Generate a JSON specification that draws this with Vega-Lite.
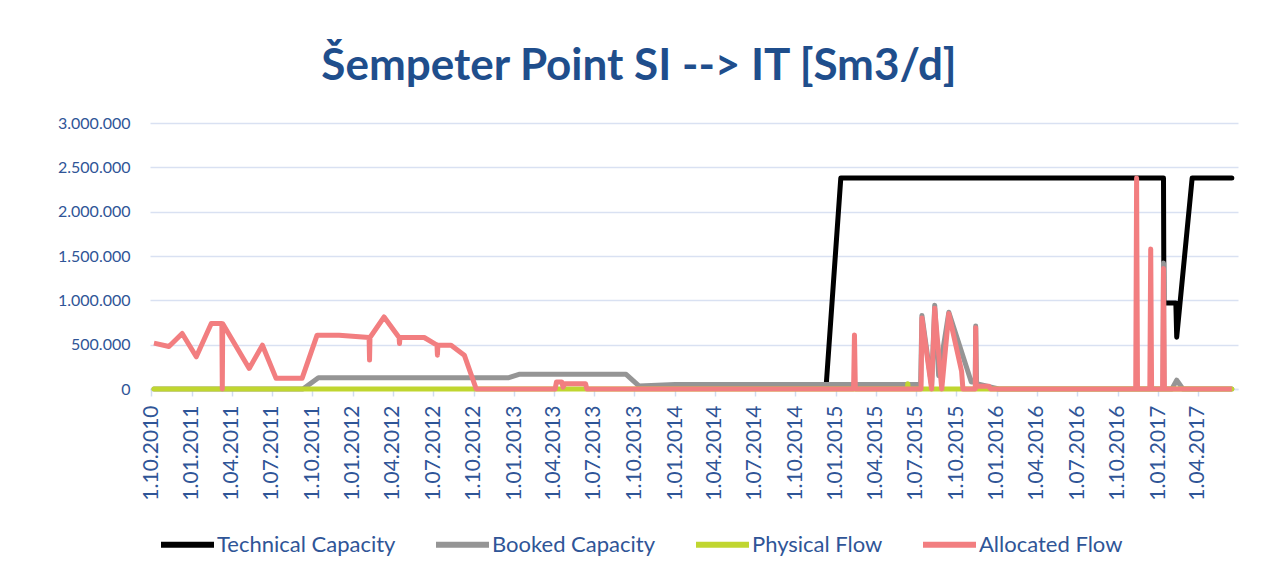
{
  "$schema": "https://vega.github.io/schema/vega-lite/v6.json",
  "width": 1088,
  "height": 266,
  "autosize": {"type": "none"},
  "padding": {"left": 150, "top": 123, "right": 24, "bottom": 188},
  "background": "white",
  "title": {
    "text": "Šempeter Point SI --> IT [Sm3/d]",
    "font": "Lato",
    "fontSize": 44,
    "fontWeight": "bold",
    "color": "#1F4E8C",
    "anchor": "middle",
    "dx": -55,
    "offset": 26
  },
  "data": {
    "values": [
      {"s": "Technical Capacity", "d": "2014-12-10", "v": 50000},
      {"s": "Technical Capacity", "d": "2015-01-12", "v": 2380000},
      {"s": "Technical Capacity", "d": "2017-01-13", "v": 2380000},
      {"s": "Technical Capacity", "d": "2017-01-14", "v": 970000},
      {"s": "Technical Capacity", "d": "2017-02-10", "v": 970000},
      {"s": "Technical Capacity", "d": "2017-02-12", "v": 585000},
      {"s": "Technical Capacity", "d": "2017-03-19", "v": 2380000},
      {"s": "Technical Capacity", "d": "2017-06-17", "v": 2380000},

      {"s": "Booked Capacity", "d": "2010-10-07", "v": 0},
      {"s": "Booked Capacity", "d": "2011-09-10", "v": 0},
      {"s": "Booked Capacity", "d": "2011-10-15", "v": 128000},
      {"s": "Booked Capacity", "d": "2012-12-20", "v": 128000},
      {"s": "Booked Capacity", "d": "2013-01-12", "v": 165000},
      {"s": "Booked Capacity", "d": "2013-09-12", "v": 165000},
      {"s": "Booked Capacity", "d": "2013-10-11", "v": 35000},
      {"s": "Booked Capacity", "d": "2014-01-01", "v": 50000},
      {"s": "Booked Capacity", "d": "2015-07-12", "v": 50000},
      {"s": "Booked Capacity", "d": "2015-07-15", "v": 830000},
      {"s": "Booked Capacity", "d": "2015-08-06", "v": 40000},
      {"s": "Booked Capacity", "d": "2015-08-13", "v": 945000},
      {"s": "Booked Capacity", "d": "2015-08-22", "v": 150000},
      {"s": "Booked Capacity", "d": "2015-09-05", "v": 580000},
      {"s": "Booked Capacity", "d": "2015-09-14", "v": 865000},
      {"s": "Booked Capacity", "d": "2015-11-04", "v": 80000},
      {"s": "Booked Capacity", "d": "2015-11-13", "v": 80000},
      {"s": "Booked Capacity", "d": "2015-11-14", "v": 710000},
      {"s": "Booked Capacity", "d": "2015-11-16", "v": 60000},
      {"s": "Booked Capacity", "d": "2016-01-05", "v": 0},
      {"s": "Booked Capacity", "d": "2017-01-12", "v": 0},
      {"s": "Booked Capacity", "d": "2017-01-13", "v": 1420000},
      {"s": "Booked Capacity", "d": "2017-01-14", "v": 0},
      {"s": "Booked Capacity", "d": "2017-02-01", "v": 0},
      {"s": "Booked Capacity", "d": "2017-02-12", "v": 100000},
      {"s": "Booked Capacity", "d": "2017-02-26", "v": 0},
      {"s": "Booked Capacity", "d": "2017-06-17", "v": 0},

      {"s": "Physical Flow", "d": "2010-10-07", "v": 0},
      {"s": "Physical Flow", "d": "2015-06-12", "v": 0},
      {"s": "Physical Flow", "d": "2015-06-13", "v": 60000},
      {"s": "Physical Flow", "d": "2015-06-14", "v": 0},
      {"s": "Physical Flow", "d": "2017-06-17", "v": 0},

      {"s": "Allocated Flow", "d": "2010-10-07", "v": 517000},
      {"s": "Allocated Flow", "d": "2010-11-10", "v": 480000},
      {"s": "Allocated Flow", "d": "2010-12-10", "v": 626000},
      {"s": "Allocated Flow", "d": "2011-01-11", "v": 363000},
      {"s": "Allocated Flow", "d": "2011-02-14", "v": 738000},
      {"s": "Allocated Flow", "d": "2011-03-10", "v": 738000},
      {"s": "Allocated Flow", "d": "2011-03-11", "v": 0},
      {"s": "Allocated Flow", "d": "2011-03-12", "v": 735000},
      {"s": "Allocated Flow", "d": "2011-05-11", "v": 232000},
      {"s": "Allocated Flow", "d": "2011-06-10", "v": 494000},
      {"s": "Allocated Flow", "d": "2011-07-11", "v": 120000},
      {"s": "Allocated Flow", "d": "2011-09-08", "v": 120000},
      {"s": "Allocated Flow", "d": "2011-10-12", "v": 607000},
      {"s": "Allocated Flow", "d": "2011-12-01", "v": 607000},
      {"s": "Allocated Flow", "d": "2012-02-07", "v": 581000},
      {"s": "Allocated Flow", "d": "2012-02-08", "v": 326000},
      {"s": "Allocated Flow", "d": "2012-02-09", "v": 581000},
      {"s": "Allocated Flow", "d": "2012-03-12", "v": 812000},
      {"s": "Allocated Flow", "d": "2012-04-15", "v": 581000},
      {"s": "Allocated Flow", "d": "2012-04-16", "v": 513000},
      {"s": "Allocated Flow", "d": "2012-04-17", "v": 581000},
      {"s": "Allocated Flow", "d": "2012-06-11", "v": 581000},
      {"s": "Allocated Flow", "d": "2012-07-10", "v": 494000},
      {"s": "Allocated Flow", "d": "2012-07-11", "v": 382000},
      {"s": "Allocated Flow", "d": "2012-07-12", "v": 494000},
      {"s": "Allocated Flow", "d": "2012-08-11", "v": 494000},
      {"s": "Allocated Flow", "d": "2012-09-10", "v": 382000},
      {"s": "Allocated Flow", "d": "2012-10-07", "v": 0},
      {"s": "Allocated Flow", "d": "2013-04-04", "v": 0},
      {"s": "Allocated Flow", "d": "2013-04-07", "v": 80000},
      {"s": "Allocated Flow", "d": "2013-04-19", "v": 80000},
      {"s": "Allocated Flow", "d": "2013-04-22", "v": 20000},
      {"s": "Allocated Flow", "d": "2013-04-26", "v": 60000},
      {"s": "Allocated Flow", "d": "2013-06-12", "v": 60000},
      {"s": "Allocated Flow", "d": "2013-06-15", "v": 0},
      {"s": "Allocated Flow", "d": "2015-02-10", "v": 0},
      {"s": "Allocated Flow", "d": "2015-02-12", "v": 610000},
      {"s": "Allocated Flow", "d": "2015-02-14", "v": 0},
      {"s": "Allocated Flow", "d": "2015-07-13", "v": 0},
      {"s": "Allocated Flow", "d": "2015-07-15", "v": 800000},
      {"s": "Allocated Flow", "d": "2015-08-06", "v": 0},
      {"s": "Allocated Flow", "d": "2015-08-13", "v": 910000},
      {"s": "Allocated Flow", "d": "2015-08-29", "v": 0},
      {"s": "Allocated Flow", "d": "2015-09-14", "v": 850000},
      {"s": "Allocated Flow", "d": "2015-10-13", "v": 200000},
      {"s": "Allocated Flow", "d": "2015-10-16", "v": 0},
      {"s": "Allocated Flow", "d": "2015-11-13", "v": 0},
      {"s": "Allocated Flow", "d": "2015-11-14", "v": 690000},
      {"s": "Allocated Flow", "d": "2015-11-15", "v": 30000},
      {"s": "Allocated Flow", "d": "2015-12-14", "v": 30000},
      {"s": "Allocated Flow", "d": "2015-12-18", "v": 0},
      {"s": "Allocated Flow", "d": "2016-11-11", "v": 0},
      {"s": "Allocated Flow", "d": "2016-11-13", "v": 2380000},
      {"s": "Allocated Flow", "d": "2016-11-15", "v": 0},
      {"s": "Allocated Flow", "d": "2016-12-13", "v": 0},
      {"s": "Allocated Flow", "d": "2016-12-15", "v": 1580000},
      {"s": "Allocated Flow", "d": "2016-12-17", "v": 0},
      {"s": "Allocated Flow", "d": "2017-01-11", "v": 0},
      {"s": "Allocated Flow", "d": "2017-01-13", "v": 1360000},
      {"s": "Allocated Flow", "d": "2017-01-15", "v": 0},
      {"s": "Allocated Flow", "d": "2017-06-17", "v": 0}
    ]
  },
  "encoding": {
    "x": {
      "field": "d",
      "type": "temporal",
      "scale": {
        "type": "utc",
        "domain": [
          {"year": 2010, "month": 9, "date": 28, "utc": true},
          {"year": 2017, "month": 7, "date": 1, "utc": true}
        ]
      },
      "axis": {
        "title": null,
        "values": [
          {"year": 2010, "month": 10, "date": 1, "utc": true},
          {"year": 2011, "month": 1, "date": 1, "utc": true},
          {"year": 2011, "month": 4, "date": 1, "utc": true},
          {"year": 2011, "month": 7, "date": 1, "utc": true},
          {"year": 2011, "month": 10, "date": 1, "utc": true},
          {"year": 2012, "month": 1, "date": 1, "utc": true},
          {"year": 2012, "month": 4, "date": 1, "utc": true},
          {"year": 2012, "month": 7, "date": 1, "utc": true},
          {"year": 2012, "month": 10, "date": 1, "utc": true},
          {"year": 2013, "month": 1, "date": 1, "utc": true},
          {"year": 2013, "month": 4, "date": 1, "utc": true},
          {"year": 2013, "month": 7, "date": 1, "utc": true},
          {"year": 2013, "month": 10, "date": 1, "utc": true},
          {"year": 2014, "month": 1, "date": 1, "utc": true},
          {"year": 2014, "month": 4, "date": 1, "utc": true},
          {"year": 2014, "month": 7, "date": 1, "utc": true},
          {"year": 2014, "month": 10, "date": 1, "utc": true},
          {"year": 2015, "month": 1, "date": 1, "utc": true},
          {"year": 2015, "month": 4, "date": 1, "utc": true},
          {"year": 2015, "month": 7, "date": 1, "utc": true},
          {"year": 2015, "month": 10, "date": 1, "utc": true},
          {"year": 2016, "month": 1, "date": 1, "utc": true},
          {"year": 2016, "month": 4, "date": 1, "utc": true},
          {"year": 2016, "month": 7, "date": 1, "utc": true},
          {"year": 2016, "month": 10, "date": 1, "utc": true},
          {"year": 2017, "month": 1, "date": 1, "utc": true},
          {"year": 2017, "month": 4, "date": 1, "utc": true}
        ],
        "labelExpr": "utcFormat(datum.value, '%-d.%m.%Y')",
        "labelAngle": 270,
        "labelFont": "Lato",
        "labelFontSize": 21,
        "labelColor": "#2F5597",
        "labelPadding": 9,
        "labelOverlap": false,
        "labelFlush": false,
        "tickColor": "#D0DCF0",
        "tickSize": 7,
        "tickWidth": 1.5,
        "domainColor": "#D9E1F2",
        "domainWidth": 1.5,
        "grid": false
      }
    },
    "y": {
      "field": "v",
      "type": "quantitative",
      "scale": {"domain": [0, 3000000], "nice": false},
      "axis": {
        "title": null,
        "values": [0, 500000, 1000000, 1500000, 2000000, 2500000, 3000000],
        "labelExpr": "replace(format(datum.value, ','), regexp(',', 'g'), '.')",
        "labelFont": "Lato",
        "labelFontSize": 16,
        "labelColor": "#2F5597",
        "labelPadding": 20,
        "domain": false,
        "ticks": false,
        "grid": true,
        "gridColor": "#D9E1F2",
        "gridWidth": 1.5
      }
    },
    "color": {
      "field": "s",
      "type": "nominal",
      "scale": {
        "domain": ["Technical Capacity", "Booked Capacity", "Physical Flow", "Allocated Flow"],
        "range": ["#000000", "#959595", "#C0D630", "#F27E80"]
      },
      "legend": {
        "title": null,
        "orient": "none",
        "legendX": 8,
        "legendY": 392,
        "direction": "horizontal",
        "symbolType": "stroke",
        "symbolSize": 2809,
        "symbolStrokeWidth": 6,
        "labelFont": "Lato",
        "labelFontSize": 22,
        "labelColor": "#2F5597",
        "labelLimit": 400,
        "labelOffset": 0,
        "columnPadding": 28
      }
    }
  },
  "layer": [
    {
      "transform": [{"filter": "datum.s === 'Technical Capacity'"}],
      "mark": {"type": "line", "strokeWidth": 5, "strokeJoin": "round", "strokeCap": "round"}
    },
    {
      "transform": [{"filter": "datum.s === 'Booked Capacity'"}],
      "mark": {"type": "line", "strokeWidth": 5, "strokeJoin": "round", "strokeCap": "round"}
    },
    {
      "transform": [{"filter": "datum.s === 'Physical Flow'"}],
      "mark": {"type": "line", "strokeWidth": 5, "strokeJoin": "round", "strokeCap": "round"}
    },
    {
      "transform": [{"filter": "datum.s === 'Allocated Flow'"}],
      "mark": {"type": "line", "strokeWidth": 5, "strokeJoin": "round", "strokeCap": "butt"}
    }
  ],
  "config": {"view": {"stroke": null}}
}
